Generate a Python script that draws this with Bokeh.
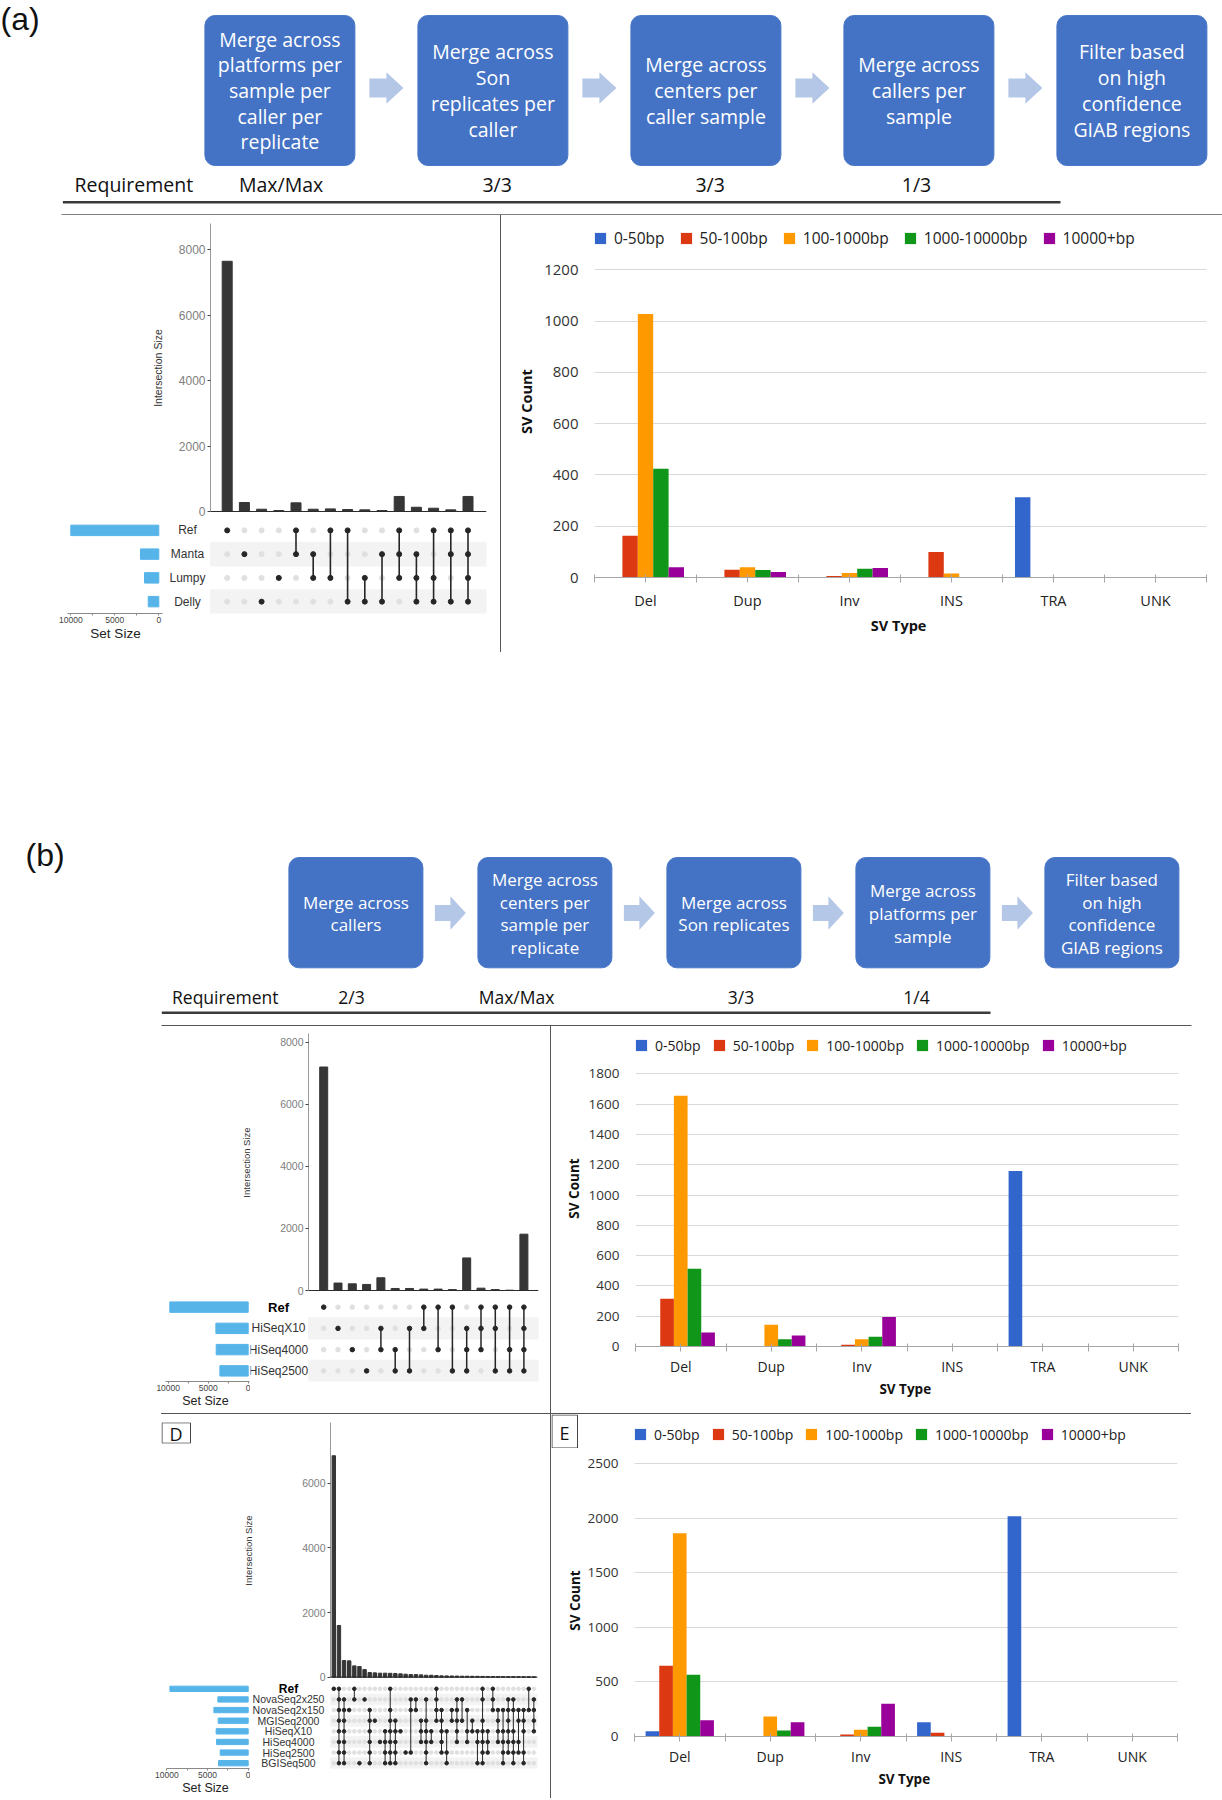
import math
import numpy as np
from bokeh.plotting import figure
from bokeh.layouts import column, row
from bokeh.models import (Range1d, FactorRange, FixedTicker, Span, Legend,
                          LegendItem, Spacer, ColumnDataSource)
from bokeh.embed import file_html
from bokeh.resources import INLINE
from bokeh.core.properties import value

# ------------------------------------------------------------------ data
A_STEPS = ["Merge across\nplatforms per\nsample per\ncaller per\nreplicate",
           "Merge across\nSon\nreplicates per\ncaller",
           "Merge across\ncenters per\ncaller sample",
           "Merge across\ncallers per\nsample",
           "Filter based\non high\nconfidence\nGIAB regions"]
A_REQUIREMENTS = ["Max/Max", "3/3", "3/3", "1/3"]
B_STEPS = ["Merge across\ncallers",
           "Merge across\ncenters per\nsample per\nreplicate",
           "Merge across\nSon replicates",
           "Merge across\nplatforms per\nsample",
           "Filter based\non high\nconfidence\nGIAB regions"]
B_REQUIREMENTS = ["2/3", "Max/Max", "3/3", "1/4"]

SV_TYPES = ["Del", "Dup", "Inv", "INS", "TRA", "UNK"]
SIZE_BINS = ["0-50bp", "50-100bp", "100-1000bp", "1000-10000bp", "10000+bp"]
BIN_COLORS = ["#3366CC", "#DC3912", "#FF9900", "#109618", "#990099"]

A_0_50 = [0, 0, 0, 0, 313, 0]
A_50_100 = [163, 30, 6, 99, 0, 0]
A_100_1000 = [1027, 40, 18, 16, 0, 0]
A_1000_10000 = [424, 29, 34, 0, 0, 0]
A_10000P = [40, 21, 37, 0, 0, 0]
A_TICKS = [0, 200, 400, 600, 800, 1000, 1200]

B_0_50 = [0, 0, 0, 0, 1158, 0]
B_50_100 = [315, 3, 11, 0, 0, 0]
B_100_1000 = [1655, 143, 48, 0, 0, 0]
B_1000_10000 = [513, 48, 64, 0, 0, 0]
B_10000P = [92, 73, 194, 0, 0, 0]
B_TICKS = [0, 200, 400, 600, 800, 1000, 1200, 1400, 1600, 1800]

E_0_50 = [49, 0, 0, 131, 2020, 0]
E_50_100 = [648, 5, 18, 34, 0, 0]
E_100_1000 = [1864, 183, 61, 0, 0, 0]
E_1000_10000 = [565, 55, 89, 0, 0, 0]
E_10000P = [150, 131, 300, 0, 0, 0]
E_TICKS = [0, 500, 1000, 1500, 2000, 2500]

UA_SETS = ["Ref", "Manta", "Lumpy", "Delly"]
UA_SET_SIZES = [10000, 2080, 1625, 1200]
UA_SIZES = [7650, 275, 70, 30, 265, 70, 80, 60, 50, 30, 460, 130, 100, 50, 460]
UA_MEMBERS = [["Ref"], ["Manta"], ["Delly"], ["Lumpy"], ["Ref", "Manta"],
              ["Manta", "Lumpy"], ["Ref", "Lumpy"], ["Ref", "Delly"], ["Lumpy", "Delly"],
              ["Manta", "Delly"], ["Ref", "Manta", "Lumpy"], ["Manta", "Lumpy", "Delly"],
              ["Ref", "Lumpy", "Delly"], ["Ref", "Manta", "Delly"],
              ["Ref", "Manta", "Lumpy", "Delly"]]
UA_TICKS = [0, 2000, 4000, 6000, 8000]

UB_SETS = ["Ref", "HiSeqX10", "HiSeq4000", "HiSeq2500"]
UB_SET_SIZES = [9800, 4040, 4000, 3540]
UB_SIZES = [7200, 240, 215, 195, 410, 65, 65, 45, 45, 30, 1050, 75, 30, 10, 1815]
UB_MEMBERS = [["Ref"], ["HiSeqX10"], ["HiSeq4000"], ["HiSeq2500"],
              ["HiSeqX10", "HiSeq4000"], ["HiSeq4000", "HiSeq2500"], ["HiSeqX10", "HiSeq2500"],
              ["Ref", "HiSeqX10"], ["Ref", "HiSeq4000"], ["Ref", "HiSeq2500"],
              ["HiSeqX10", "HiSeq4000", "HiSeq2500"], ["Ref", "HiSeqX10", "HiSeq4000"],
              ["Ref", "HiSeqX10", "HiSeq2500"], ["Ref", "HiSeq4000", "HiSeq2500"],
              ["Ref", "HiSeqX10", "HiSeq4000", "HiSeq2500"]]
UB_TICKS = [0, 2000, 4000, 6000, 8000]

UD_SETS = ["Ref", "NovaSeq2x250", "NovaSeq2x150", "MGISeq2000", "HiSeqX10",
           "HiSeq4000", "HiSeq2500", "BGISeq500"]
UD_SET_SIZES = [9630, 3730, 4220, 3690, 3940, 3890, 3440, 3650]
UD_SIZES = [6850, 1600, 515, 505, 350, 330, 237, 144, 134, 124,
            124, 120, 113, 103, 93, 82, 82, 72, 62, 60,
            52, 41, 40, 38, 35, 31, 30, 28, 26, 24,
            22, 20, 20, 18, 16, 15, 14, 13, 12, 10]
UD_MEMBERS = [[0], [0, 1, 2, 3, 4, 5, 6, 7], [1, 2, 3, 4, 5, 6, 7], [2], [0, 1], [7], [1],
              [2, 3, 4, 5, 6, 7], [3], [5], [4, 5, 6, 7], [0, 2, 3, 4, 5, 6, 7],
              [3, 4, 5, 6, 7], [4], [6], [1, 2, 6], [1, 2], [3, 4, 5], [1, 3, 4, 5, 6, 7],
              [4, 5], [0, 1, 2, 3], [2, 3, 4, 5, 6], [4, 6, 7], [2, 3], [1, 2, 3, 4, 5],
              [1, 3], [2, 4, 5], [3, 4], [4, 5, 7], [0, 1, 3, 4, 5, 6, 7], [4, 5, 6],
              [0, 1, 2], [2, 3, 4, 5], [2, 4, 5, 6, 7], [1, 2, 3, 4, 5, 6],
              [1, 2, 4, 5, 6, 7], [2, 3, 5, 6], [2, 3, 4, 6, 7], [0, 2], [1, 2, 3, 4]]
UD_TICKS = [0, 2000, 4000, 6000]

SET_TICKS = [0, 2500, 5000, 7500, 10000]
SET_TICK_LABELS = {0: "0", 2500: "", 5000: "5000", 7500: "", 10000: "10000"}

PAGE_W = 1222
LINE = "#555555"


# ------------------------------------------------------------------ helpers
def blank(width, height, **kw):
    p = figure(width=width, height=height, output_backend="svg", toolbar_location=None, **kw)
    p.outline_line_color = None
    p.grid.visible = False
    return p


def pixel_fig(width, height):
    return blank(width, height, x_range=Range1d(0, width), y_range=Range1d(height, 0),
                 x_axis_location=None, y_axis_location=None, min_border=0)


def flow_fig(H, label, steps, reqs, g):
    p = pixel_fig(PAGE_W, H)
    n = len(steps)
    cx = [g["cx0"] + i * g["step"] for i in range(n)]
    hw = g["bw"] / 2
    p.quad(left=[c - hw for c in cx], right=[c + hw for c in cx],
           top=[g["by0"]] * n, bottom=[g["by1"]] * n,
           fill_color="#4472C4", line_color="#4A78C8", border_radius=10)
    p.text(x=cx, y=[g["cy"]] * n, text=steps, text_align="center", text_baseline="middle",
           text_color="white", text_font=value("Open Sans"), text_font_size=g["fs"],
           text_line_height=g["lh"])
    xs, ys = [], []
    al, sh, hh, ay = g["arrow"]
    for i in range(n - 1):
        c = (cx[i] + cx[i + 1]) / 2
        xs.append([c - al, c, c, c + al, c, c, c - al])
        ys.append([ay - sh, ay - sh, ay - hh, ay, ay + hh, ay + sh, ay + sh])
    p.patches(xs, ys, fill_color="#B4C7E7", line_color=None)
    p.text(x=[g["req_lx"]], y=[g["req_y"]], text=["Requirement"], text_align="left",
           text_baseline="middle", text_font=value("Open Sans"), text_font_size=g["rfs"],
           text_color="#111111")
    p.text(x=g["req_xs"], y=[g["req_y"]] * len(reqs), text=reqs, text_align="center",
           text_baseline="middle", text_font=value("Open Sans"), text_font_size=g["rfs"],
           text_color="#111111")
    ul = g["underline"]
    p.segment(x0=[ul[0]], y0=[ul[2]], x1=[ul[1]], y1=[ul[2]], line_width=2.5, line_color="#3a3a3a")
    bl = g["border"]
    p.segment(x0=[bl[0]], y0=[bl[2]], x1=[bl[1]], y1=[bl[2]], line_width=1.3, line_color=LINE)
    p.text(x=[g["lab"][0]], y=[g["lab"][1]], text=[label], text_align="left", text_baseline="top",
           text_font=value("Liberation Sans"), text_font_size=g["lab"][2], text_color="#111111")
    return p


def box_fig(width, height, letter, box_w):
    p = pixel_fig(width, height)
    p.quad(left=[0.5], right=[box_w], top=[0.5], bottom=[height - 0.5],
           fill_color="white", line_color="#444444", line_width=1)
    p.text(x=[box_w / 2], y=[height / 2 + 1], text=[letter], text_align="center",
           text_baseline="middle", text_font=value("Open Sans"), text_font_size="18px",
           text_color="#111111")
    return p


def make_upset(sets, set_sizes, inter_sizes, inter_members, yticks, g):
    W, bl = g["W"], g["bleft"]
    n = len(inter_sizes)
    members = [[sets[m] if isinstance(m, int) else m for m in ms] for ms in inter_members]
    idx = {s: i for i, s in enumerate(sets)}

    # --- intersection size bars
    xr = Range1d((g["fx0"] - g["col0"]) / g["dx"], (g["fx1"] - g["col0"]) / g["dx"])
    y_end = (g["zero"] - g["fy0"]) / g["ppu"]
    y_start = -(g["fy1"] - g["zero"]) / g["ppu"]
    pb = blank(W - bl, g["bars_bottom"] - g["top"], x_range=xr, y_range=Range1d(y_start, y_end),
               min_border_left=g["fx0"] - bl, min_border_right=W - g["fx1"],
               min_border_top=g["fy0"] - g["top"], min_border_bottom=g["bars_bottom"] - g["fy1"],
               x_axis_location=None)
    pb.vbar(x=list(range(n)), top=inter_sizes, bottom=0, width=g["bar_w"] / g["dx"],
            color="#363636")
    pb.add_layout(Span(location=0, dimension="width", line_color="#2b2b2b", line_width=1.2))
    ax = pb.yaxis[0]
    ax.ticker = FixedTicker(ticks=yticks)
    ax.bounds = (0, y_end)
    ax.axis_line_color = "#9a9a9a"
    ax.major_tick_line_color = "#444444"
    ax.major_tick_out = 3
    ax.major_tick_in = 0
    ax.minor_tick_line_color = None
    ax.major_label_text_font = "Liberation Sans"
    ax.major_label_text_font_size = g["tick_fs"]
    ax.major_label_text_color = "#808080"
    ax.major_label_standoff = 2
    ax.axis_label = "Intersection Size"
    ax.axis_label_text_font = "Liberation Sans"
    ax.axis_label_text_font_size = g["ylab_fs"]
    ax.axis_label_text_font_style = "normal"
    ax.axis_label_text_color = "#333333"
    ax.axis_label_standoff = g["ylab_standoff"]

    # --- matrix (with set names)
    bot_h = g["bottom"] - g["bars_bottom"]
    yr = FactorRange(factors=list(reversed(sets)))
    mt = g["my0"] - g["bars_bottom"]
    mb = g["bottom"] - g["my1"]
    mxr = Range1d((g["sfx1"] - g["col0"]) / g["dx"], (g["fx1"] - g["col0"]) / g["dx"])
    pm = blank(W - g["sfx1"], bot_h, x_range=mxr, y_range=yr,
               min_border_left=0, min_border_right=W - g["fx1"],
               min_border_top=mt, min_border_bottom=mb,
               x_axis_location=None, y_axis_location=None)
    band_left = (g["fx0"] - g["col0"]) / g["dx"]
    shaded = [s for i, s in enumerate(sets) if i % 2 == 1]
    pm.hbar(y=shaded, left=band_left, right=mxr.end, height=1.0, color="#f3f3f3")
    gx, gy = [], []
    for c in range(n):
        for s in sets:
            gx.append(c)
            gy.append(s)
    pm.scatter(x=gx, y=gy, size=g["dot"], color="#e0e0e0")
    sx0, sy0, sy1, dxs, dys = [], [], [], [], []
    for c, ms in enumerate(members):
        rows = sorted(idx[m] for m in ms)
        if len(rows) > 1:
            sx0.append(c)
            sy0.append(sets[rows[0]])
            sy1.append(sets[rows[-1]])
        for m in ms:
            dxs.append(c)
            dys.append(m)
    pm.segment(x0=sx0, y0=sy0, x1=sx0, y1=sy1, line_width=g["seg_w"], line_color="#262626")
    pm.scatter(x=dxs, y=dys, size=g["dot"], color="#262626")
    bold = g["ref_bold"]
    name_v = (g["name_x"] - g["col0"]) / g["dx"]
    src = ColumnDataSource(dict(
        x=[name_v] * len(sets), y=sets, t=sets,
        st=["bold" if (bold and s == "Ref") else "normal" for s in sets],
        fsz=[g["ref_fs"] if (bold and s == "Ref") else g["name_fs"] for s in sets],
        col=["#000000" if (bold and s == "Ref") else "#333333" for s in sets]))
    pm.text(x="x", y="y", text="t", source=src, text_align="center", text_baseline="middle",
            text_font=value("Liberation Sans"), text_font_style="st", text_font_size="fsz",
            text_color="col")

    # --- set sizes
    sxr = Range1d((g["szero"] - g["sfx0"]) / g["sppu"], (g["szero"] - g["sfx1"]) / g["sppu"])
    ps = blank(g["sfx1"], bot_h, x_range=sxr, y_range=yr,
               min_border_left=g["sfx0"], min_border_right=0,
               min_border_top=mt, min_border_bottom=mb, y_axis_location=None)
    ps.hbar(y=sets, left=0, right=set_sizes, height=g["sbar_h"], color="#56B4E9")
    sa = ps.xaxis[0]
    sa.ticker = FixedTicker(ticks=SET_TICKS)
    sa.major_label_overrides = SET_TICK_LABELS
    sa.bounds = g["sbounds"]
    sa.axis_line_color = "#8a8a8a"
    sa.major_tick_line_color = "#8a8a8a"
    sa.major_tick_out = 2
    sa.major_tick_in = 0
    sa.minor_tick_line_color = None
    sa.major_label_standoff = 1
    sa.major_label_text_font = "Liberation Sans"
    sa.major_label_text_font_size = g["st_fs"]
    sa.major_label_text_color = "#444444"
    sa.axis_label = "Set Size"
    sa.axis_label_text_font = "Liberation Sans"
    sa.axis_label_text_font_size = g["setsize_fs"]
    sa.axis_label_text_font_style = "normal"
    sa.axis_label_text_color = "#222222"
    sa.axis_label_standoff = 0
    return pb, ps, pm


def make_chart(series, yticks, g, ylabel=True):
    W, H = g["W"], g["H"]
    fh = g["fy1"] - g["fy0"]
    ncat = len(SV_TYPES)
    p = blank(W, H, x_range=Range1d(0, ncat), y_range=Range1d(0, fh / g["ppu"]),
              min_border_left=g["fx0"] - g["left"], min_border_right=g["left"] + W - g["fx1"],
              min_border_top=g["fy0"] - g["top"], min_border_bottom=g["top"] + H - g["fy1"])
    bw = 0.151
    items = []
    for k, (name, vals, col) in enumerate(zip(SIZE_BINS, series, BIN_COLORS)):
        xc = [i + 0.5 + (k - 2) * bw for i in range(ncat)]
        p.quad(left=[x - bw / 2 for x in xc], right=[x + bw / 2 for x in xc],
               top=vals, bottom=0, fill_color=col, line_color=None)
        # legend key: a square marker with no drawable position (NaN), used only by the legend
        key = p.scatter(x=np.array([np.nan]), y=np.array([np.nan]), marker="square", size=11,
                        fill_color=col, line_color=None)
        items.append(LegendItem(label=name, renderers=[key]))
    leg = Legend(items=items, orientation="horizontal", location=g["leg"],
                 glyph_width=28, glyph_height=28, label_standoff=0, spacing=g["leg_sp"],
                 padding=0, margin=0, border_line_color=None, background_fill_alpha=0,
                 label_text_font="Open Sans", label_text_font_size=g["leg_fs"],
                 label_text_color="#222222", label_height=18)
    p.add_layout(leg)
    p.ygrid.visible = True
    p.ygrid.ticker = FixedTicker(ticks=yticks)
    p.ygrid.grid_line_color = "#d9d9d9"
    ya = p.yaxis[0]
    ya.ticker = FixedTicker(ticks=yticks)
    ya.axis_line_color = None
    ya.major_tick_line_color = None
    ya.minor_tick_line_color = None
    ya.major_tick_out = 0
    ya.major_tick_in = 0
    ya.major_label_standoff = 16
    ya.major_label_text_font = "Open Sans"
    ya.major_label_text_font_size = g["tick_fs"]
    ya.major_label_text_color = "#333333"
    if ylabel:
        ya.axis_label = "SV Count"
        ya.axis_label_text_font = "Open Sans"
        ya.axis_label_text_font_style = "bold"
        ya.axis_label_text_font_size = g["title_fs"]
        ya.axis_label_text_color = "#111111"
        ya.axis_label_standoff = g["ylab_standoff"]
    ticks = [i * 0.5 for i in range(2 * ncat + 1)]
    overrides = {}
    for t in ticks:
        if abs(t - round(t)) < 1e-9:
            overrides[int(round(t))] = ""
        else:
            overrides[t] = SV_TYPES[int(t)]
    xa = p.xaxis[0]
    xa.ticker = FixedTicker(ticks=ticks)
    xa.major_label_overrides = overrides
    xa.axis_line_color = "#a6a6a6"
    xa.major_tick_line_color = "#a6a6a6"
    xa.minor_tick_line_color = None
    xa.major_tick_in = 3
    xa.major_tick_out = 5
    xa.major_label_standoff = g["cat_standoff"]
    xa.major_label_text_font = "Open Sans"
    xa.major_label_text_font_size = g["cat_fs"]
    xa.major_label_text_color = "#222222"
    xa.axis_label = "SV  Type"
    xa.axis_label_text_font = "Open Sans"
    xa.axis_label_text_font_style = "bold"
    xa.axis_label_text_font_size = g["title_fs"]
    xa.axis_label_text_color = "#111111"
    xa.axis_label_standoff = g["xlab_standoff"]
    return p


def vline(h):
    return Spacer(width=1, height=h, styles={"background-color": LINE})


# ------------------------------------------------------------------ geometry (page px)
FA = dict(cx0=279.4, step=213.0, bw=150, by0=15, by1=165, cy=90, fs="19.5px", lh=0.953,
          arrow=(17, 9.5, 15.8, 87.5), req_lx=74, req_y=184, rfs="19.5px",
          req_xs=[280.6, 496.6, 709.7, 916.0], underline=(62.4, 1060, 201.7),
          border=(61, 1222, 214.4), lab=(0, 0, "32px"))
FB = dict(cx0=355.4, step=189.0, bw=134, by0=205, by1=315.3, cy=261, fs="17px", lh=0.98,
          arrow=(15.5, 8, 16.7, 260.5), req_lx=171.5, req_y=344.7, rfs="17.5px",
          req_xs=[351, 516, 740.5, 916], underline=(161.3, 990, 360.3),
          border=(161, 1191, 373.2), lab=(25, 184.7, "32px"))

GA = dict(top=215, bars_bottom=518, bottom=652, W=500, bleft=0, fx0=210, fx1=486, fy0=223,
          fy1=512, zero=511, ppu=0.03271, col0=226.7, dx=17.2, bar_w=10, my0=518, my1=613,
          sfx0=62, sfx1=168, szero=158.3, sppu=0.0088, name_x=187, sbar_h=0.44, dot=5,
          seg_w=1.6, tick_fs="12px", name_fs="12px", ref_fs="12px", ref_bold=False,
          ylab_fs="10.5px", ylab_standoff=12, st_fs="8.5px", setsize_fs="13.5px",
          sbounds=(-420, 10410))
GB = dict(top=1026, bars_bottom=1296, bottom=1413, W=550, bleft=0, fx0=308, fx1=538,
          fy0=1033, fy1=1291, zero=1290, ppu=0.03104, col0=323.2, dx=14.3, bar_w=8,
          my0=1296, my1=1381, sfx0=160, sfx1=250, szero=247.7, sppu=0.008, name_x=278,
          sbar_h=0.49, dot=4.5, seg_w=1.5, tick_fs="10.5px", name_fs="12px", ref_fs="13px",
          ref_bold=True, ylab_fs="9.5px", ylab_standoff=25, st_fs="8.5px",
          setsize_fs="12.5px", sbounds=(-200, 10340))
GD = dict(top=1414, bars_bottom=1683, bottom=1798, W=550, bleft=191, fx0=330, fx1=537,
          fy0=1422, fy1=1678, zero=1676.7, ppu=0.03233, col0=333.3, dx=5.13, bar_w=3.4,
          my0=1683, my1=1768, sfx0=160, sfx1=250, szero=247.7, sppu=0.00813, name_x=288,
          sbar_h=0.5, dot=3.6, seg_w=1.0, tick_fs="10.5px", name_fs="10.5px", ref_fs="12px",
          ref_bold=True, ylab_fs="9.5px", ylab_standoff=45, st_fs="8.5px",
          setsize_fs="12.5px", sbounds=(-200, 10000))

CA = dict(left=501, W=721, top=215, H=437, fx0=594, fx1=1206, fy0=225, fy1=577, ppu=0.2565,
          leg=(-8, 325), leg_sp=7, leg_fs="15.5px", tick_fs="15px", cat_fs="14.5px",
          title_fs="14.5px", cat_standoff=8, xlab_standoff=3, ylab_standoff=5)
CB = dict(left=551, W=671, top=1026, H=387, fx0=635, fx1=1178, fy0=1030, fy1=1346,
          ppu=0.1515, leg=(-8, 287), leg_sp=4, leg_fs="14px", tick_fs="13.5px",
          cat_fs="14px", title_fs="13.5px", cat_standoff=5, xlab_standoff=1, ylab_standoff=3)
CE = dict(left=585, W=637, top=1414, H=384, fx0=635, fx1=1178, fy0=1418, fy1=1736,
          ppu=0.10908, leg=(-8, 288), leg_sp=4, leg_fs="14px", tick_fs="13.5px",
          cat_fs="14px", title_fs="13.5px", cat_standoff=5, xlab_standoff=1, ylab_standoff=3)

# ------------------------------------------------------------------ build
flow_a = flow_fig(215, "(a)", A_STEPS, A_REQUIREMENTS, FA)
flow_b = flow_fig(374, "(b)", B_STEPS, B_REQUIREMENTS, FB)

pb_a, ps_a, pm_a = make_upset(UA_SETS, UA_SET_SIZES, UA_SIZES, UA_MEMBERS, UA_TICKS, GA)
pb_b, ps_b, pm_b = make_upset(UB_SETS, UB_SET_SIZES, UB_SIZES, UB_MEMBERS, UB_TICKS, GB)
pb_d, ps_d, pm_d = make_upset(UD_SETS, UD_SET_SIZES, UD_SIZES, UD_MEMBERS, UD_TICKS, GD)

ch_a = make_chart([A_0_50, A_50_100, A_100_1000, A_1000_10000, A_10000P], A_TICKS, CA)
ch_b = make_chart([B_0_50, B_50_100, B_100_1000, B_1000_10000, B_10000P], B_TICKS, CB)
ch_e = make_chart([E_0_50, E_50_100, E_100_1000, E_1000_10000, E_10000P], E_TICKS, CE,
                  ylabel=False)

d_box = box_fig(30, 34, "D", 29)
e_box = box_fig(33, 34, "E", 26)
sv_e = blank(33, 350, x_range=Range1d(0, 33), y_range=Range1d(0, 350),
             x_axis_location=None, y_axis_location=None, min_border=0)
sv_e.text(x=[23], y=[1798 - 1600], text=["SV Count"], angle=math.pi / 2,
          text_align="center", text_baseline="middle", text_font=value("Open Sans"),
          text_font_style="bold", text_font_size="13.5px", text_color="#111111")

hline = row(Spacer(width=161, height=1),
            Spacer(width=1030, height=1, styles={"background-color": LINE}))

page = column(
    flow_a,
    row(column(pb_a, row(ps_a, pm_a)), vline(437), ch_a),
    flow_b,
    row(column(pb_b, row(ps_b, pm_b)), vline(387), ch_b),
    hline,
    row(column(row(Spacer(width=161, height=34), d_box, pb_d), row(ps_d, pm_d)),
        vline(384), column(e_box, sv_e), ch_e),
)

open("out.html", "w").write(file_html(page, INLINE))
